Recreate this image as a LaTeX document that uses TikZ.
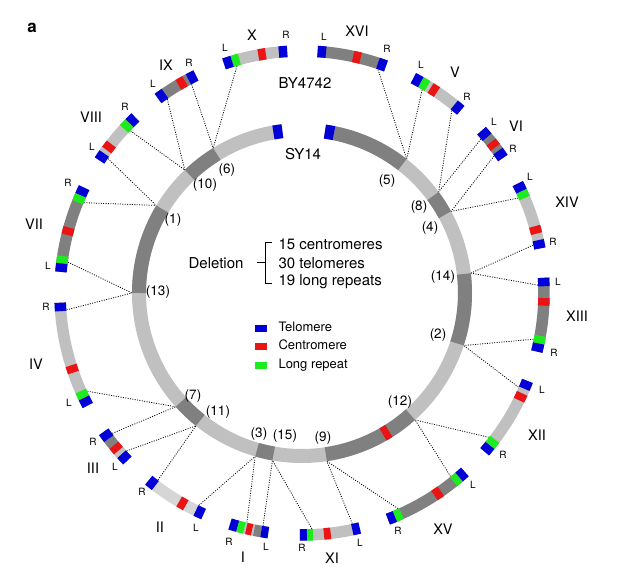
\documentclass[tikz,border=0pt]{standalone}
\usepackage{fontspec}
\setmainfont{TeX Gyre Heros}
\definecolor{telblue}{RGB}{0,0,215}
\definecolor{cenred}{RGB}{235,20,20}
\definecolor{lrgreen}{RGB}{30,235,30}
\definecolor{dgray}{RGB}{128,128,128}
\definecolor{lgray}{RGB}{192,192,192}
\definecolor{pgray}{RGB}{214,214,214}

\begin{document}
\begin{tikzpicture}[x=1pt,y=1pt,
    ringseg/.style={line width=14pt},
    chrseg/.style={line width=11.5pt},
    link/.style={line width=0.8pt,dash pattern=on 1pt off 1.4pt},
    chrlabel/.style={font=\fontsize{14.5}{16}\selectfont},
    bplabel/.style={font=\fontsize{13.5}{16}\selectfont},
    endlabel/.style={font=\fontsize{10}{12}\selectfont},
    midtext/.style={font=\fontsize{15}{17}\selectfont},
    legtext/.style={font=\fontsize{13}{15}\selectfont,anchor=west,text height=1.6ex,text depth=.3ex}]

  \useasboundingbox (-302,-284) rectangle (331,293);

  % breakpoints on SY14 and chromosome ends
  \foreach \n/\a in {6/121.5, 10/133.6, 1/149, 13/180, 7/222, 11/231.4, 3/254, 15/260,
                     9/278.4, 12/311.7, 2/342, 14/6.7, 4/28.7, 8/36.5, 5/52}
    \coordinate (bp\n) at (\a:170);
  \foreach \n/\a in {XL/106, IXR/117.9, IXL/124.8, VIIIR/136.6, VIIIL/145.3, VIIR/157.5,
                     VIIL/172.5, IVR/184.1, IVL/204.6, IIIR/216.5, IIIL/222, IIR/232.4,
                     IIL/244.1, IR/256.5, IL/260.5, XIR/272.4, XIL/282.3, XVR/294, XVL/309,
                     XIIR/322.3, XIIL/336.5, XIIIR/348.7, XIIIL/361.9, XIVR/11.7, XIVL/23.7,
                     VIR/35.5, VIL/40.7, VR/50.6, VL/59.4, XVIR/71.2}
    \coordinate (e\n) at (\a:236);

  % dotted links
  \foreach \u/\v in {XL/6, IXR/6, IXL/10, VIIIR/10, VIIIL/1, VIIR/1, VIIL/13, IVR/13,
                     IVL/7, IIIR/7, IIIL/11, IIR/11, IIL/3, IR/3, IL/15, XIR/15, XIL/9,
                     XVR/9, XVL/12, XIIR/12, XIIL/2, XIIIR/2, XIIIL/14, XIVR/14, XIVL/4,
                     VIR/4, VIL/8, VR/8, VL/5, XVIR/5}
    \draw[link] (e\u) -- (bp\v);

  % SY14 ring
  \draw[ringseg,lgray] (96.9:163) arc[start angle=96.9,end angle=441.9,radius=163];
  \foreach \a/\b/\c in {121.5/133.6/dgray, 149/180/dgray, 222/231.4/dgray, 254/260/dgray,
                        278.4/311.7/dgray, 342/366.7/dgray, 388.7/396.5/dgray, 412/441.9/dgray,
                        299.8/302.2/cenred, 96.9/100.1/telblue, 438.7/441.9/telblue}
    \draw[ringseg,\c] (\a:163) arc[start angle=\a,end angle=\b,radius=163];

  % BY4742 chromosomes
  \foreach \a/\b/\c in {93.5/108.8/lgray, 116/126.5/dgray, 133.5/146.8/lgray, 154.2/175/dgray,
                        182.3/207.7/lgray, 215/223.8/dgray, 230.7/246/pgray, 252.7/262/lgray,
                        269.5/283.8/lgray, 290.8/312.3/dgray, 319/338.7/lgray, 346/363.6/dgray,
                        10.6/26.9/lgray, 33.9/42.1/dgray, 49/62.6/lgray, 69.7/86.3/dgray}
    \draw[chrseg,\c] (\a:242) arc[start angle=\a,end angle=\b,radius=242];
  \foreach \a/\b/\c in {93.5/95.5/telblue, 98.6/100.4/cenred, 105/106.8/lrgreen, 106.8/108.8/telblue,
                        116/118/telblue, 118.9/120.7/cenred, 124.5/126.5/telblue,
                        133.5/135.5/telblue, 135.5/137.3/lrgreen, 142/143.8/cenred, 144.8/146.8/telblue,
                        154.2/156.2/telblue, 156.2/158/lrgreen, 164.3/166.1/cenred, 171.2/173/lrgreen, 173/175/telblue,
                        182.3/184.3/telblue, 197.4/199.2/cenred, 203.9/205.7/lrgreen, 205.7/207.7/telblue,
                        215/217/telblue, 219/220.7/cenred, 220.7/221.8/lgray, 221.8/223.8/telblue,
                        230.7/232.7/telblue, 239.5/241.3/cenred, 244/246/telblue,
                        252.7/254.6/telblue, 254.6/256.2/lrgreen, 256.7/258.1/cenred, 258.6/260.3/dgray, 260.3/262/telblue,
                        269.5/271.2/telblue, 271.2/272.6/lrgreen, 275.2/276.8/cenred, 282/283.8/telblue,
                        290.8/292.6/telblue, 292.6/294.3/lrgreen, 303.2/305/cenred, 308.8/310.5/lrgreen, 310.5/312.3/telblue,
                        319/321/telblue, 321/322.8/lrgreen, 333.7/335.5/cenred, 336.7/338.7/telblue,
                        346/348/telblue, 348/349.8/lrgreen, 357/358.8/cenred, 361.6/363.6/telblue,
                        10.6/12.6/telblue, 14.2/16/cenred, 23.1/24.9/lrgreen, 24.9/26.9/telblue,
                        33.9/35.9/telblue, 37/38.6/cenred, 40.1/42.1/telblue,
                        49/51/telblue, 56.1/57.9/cenred, 58.8/60.6/lrgreen, 60.6/62.6/telblue,
                        69.7/71.7/telblue, 76/77.8/cenred, 84.3/86.3/telblue}
    \draw[chrseg,\c] (\a:242) arc[start angle=\a,end angle=\b,radius=242];

  % chromosome names
  \node[chrlabel] (nX) at (-50,258) {X};
  \node[chrlabel] (nIX) at (-136,228) {IX};
  \node[chrlabel] (nVIII) at (-211,176) {VIII};
  \node[chrlabel] (nVII) at (-268,69) {VII};
  \node[chrlabel] (nIV) at (-266,-71) {IV};
  \node[chrlabel] (nIII) at (-209,-175) {III};
  \node[chrlabel] (nII) at (-142,-234) {II};
  \node[chrlabel] (nI) at (-59,-264) {I};
  \node[chrlabel] (nXI) at (30,-265) {XI};
  \node[chrlabel] (nXV) at (141,-236) {XV};
  \node[chrlabel] (nXII) at (235,-142) {XII};
  \node[chrlabel] (nXIII) at (275,-23) {XIII};
  \node[chrlabel] (nXIV) at (265,91) {XIV};
  \node[chrlabel] (nVI) at (214,167) {VI};
  \node[chrlabel] (nV) at (153,221) {V};
  \node[chrlabel] (nXVI) at (55,262) {XVI};

  % arm ends
  \foreach \x/\y/\t [count=\i] in {-77/245/L, -16/258/R, -149/209/L, -113/230/R, -210/146/L, -177/186/R,
                     -254/27/L, -234/110/R, -256/-14/R, -233/-110/L, -209/-149/R, -187/-174/L,
                     -160/-199/R, -106/-235/L, -73/-249/R, -36/-254/L, 0/-255/R, 58/-250/L,
                     96/-238/R, 171/-192/L, 201/-162/R, 240/-97/L, 256/11/L, 252/-60/R,
                     228/116/L, 251/51/R, 192/171/L, 211/144/R, 119/228/L, 165/196/R,
                     22/256/L, 85/244/R}
    \node[endlabel] (arm\i) at (\x,\y) {\t};

  % breakpoint numbers
  \foreach \x/\y/\t [count=\i] in {-75/123/6, -97/108/10, -129/73/1, -144/1/13, -109/-103/7,
                     -84/-119/11, -43/-141/3, -17/-143/15, 21/-145/9, 98/-109/12,
                     136/-42/2, 141/16/14, 128/65/4, 117/86/8, 85/112/5}
    \node[bplabel] (bpl\i) at (\x,\y) {(\t)};

  \node[font=\bfseries\fontsize{17}{19}\selectfont] (tag) at (-270,265) {a};
  \node[midtext] (by) at (3,210) {BY4742};
  \node[midtext] (sy) at (1,139) {SY14};

  % deletion summary
  \node[midtext,anchor=east] (del) at (-55,30) {Deletion};
  \draw[line width=1pt] (-30,50) -- (-36,50) -- (-36,9) -- (-30,9) (-45,30) -- (-36,30);
  \node[midtext,anchor=west] (cen) at (-27,49) {15 centromeres};
  \node[midtext,anchor=west] (tel) at (-27,30) {30 telomeres};
  \node[midtext,anchor=west] (rep) at (-27,11) {19 long repeats};

  % legend
  \fill[telblue] (-47,-32) rectangle (-35,-39);
  \fill[cenred] (-47,-50) rectangle (-35,-57);
  \fill[lrgreen] (-47,-69) rectangle (-35,-76);
  \node[legtext] (lt) at (-27,-35.5) {Telomere};
  \node[legtext] (lc) at (-27,-53.5) {Centromere};
  \node[legtext] (ll) at (-27,-72.5) {Long repeat};
\end{tikzpicture}
\end{document}
